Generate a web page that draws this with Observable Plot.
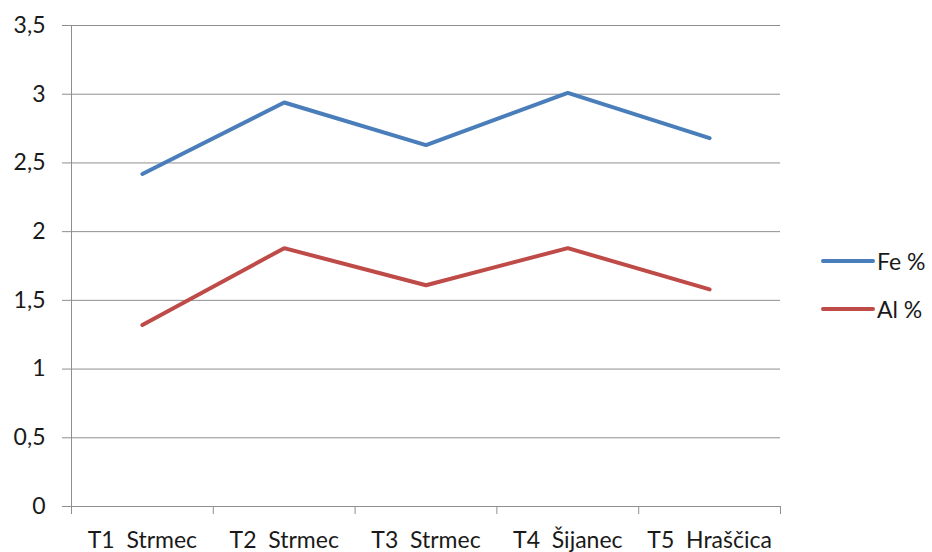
<!DOCTYPE html>
<html>
<head>
<meta charset="utf-8">
<script src="https://cdn.jsdelivr.net/npm/d3@7"></script>
<script src="https://cdn.jsdelivr.net/npm/@observablehq/plot@0.6"></script>
<style>
  html, body { margin: 0; padding: 0; background: #fff; }
  #wrap { position: relative; width: 932px; height: 552px; font-family: Lato, "Noto Sans", sans-serif; }
  #wrap svg text { white-space: pre; }
  .legend { position: absolute; left: 821px; font-size: 23px; color: #1a1a1a; display: flex; align-items: center; line-height: 26px; }
  .legend .sw { width: 54px; height: 4px; border-radius: 2px; margin-right: 2px; }
</style>
</head>
<body>
<div id="wrap"></div>
<script>
const categories = ["T1  Strmec", "T2  Strmec", "T3  Strmec", "T4  Šijanec", "T5  Hraščica"];
const fe = [2.42, 2.94, 2.63, 3.01, 2.68];
const al = [1.32, 1.88, 1.61, 1.88, 1.58];
const seriesNames = ["Fe %", "Al %"];
const seriesColors = ["#4a7ebb", "#be4b48"];
const yTicks = [0, 0.5, 1, 1.5, 2, 2.5, 3, 3.5];

const rows = [];
[fe, al].forEach((vals, s) => vals.forEach((v, i) => rows.push({series: seriesNames[s], i: i + 0.5, v})));
const bounds = d3.range(categories.length + 1);
const mids = categories.map((c, i) => i + 0.5);

const chart = Plot.plot({
  width: 932,
  height: 552,
  marginLeft: 71,
  marginRight: 152,
  marginTop: 25,
  marginBottom: 46,
  style: {fontFamily: "Lato, 'Noto Sans', sans-serif", fontSize: "23px", color: "#1a1a1a", background: "#fff"},
  x: {type: "linear", domain: [0, categories.length]},
  y: {domain: [0, 3.5]},
  color: {domain: seriesNames, range: seriesColors},
  marks: [
    Plot.gridY(yTicks, {stroke: "#8e8e8e", strokeOpacity: 1, x1: 0, x2: categories.length}),
    Plot.axisY(yTicks, {tickSize: 9, tickPadding: 17, stroke: "#8e8e8e", tickFormat: d => String(d).replace(".", ","), label: null, fontSize: 23}),
    Plot.ruleX([0], {stroke: "#8e8e8e"}),
    Plot.ruleY([0], {stroke: "#8e8e8e"}),
    Plot.axisX(bounds, {tickSize: 8, stroke: "#8e8e8e", tickFormat: () => "", label: null}),
    Plot.axisX(mids, {tickSize: 0, tickPadding: 25, tickFormat: d => categories[Math.round(d - 0.5)], label: null, fontSize: 23}),
    Plot.line(rows, {x: "i", y: "v", z: "series", stroke: "series", strokeWidth: 4, strokeLinejoin: "miter", strokeLinecap: "round"})
  ]
});
const wrap = document.getElementById("wrap");
wrap.appendChild(chart);
seriesNames.forEach((n, k) => {
  const d = document.createElement("div");
  d.className = "legend";
  d.style.top = (261 + 48 * k - 13) + "px";
  d.innerHTML = `<span class="sw" style="background:${seriesColors[k]}"></span><span>${n}</span>`;
  wrap.appendChild(d);
});
</script>
</body>
</html>
